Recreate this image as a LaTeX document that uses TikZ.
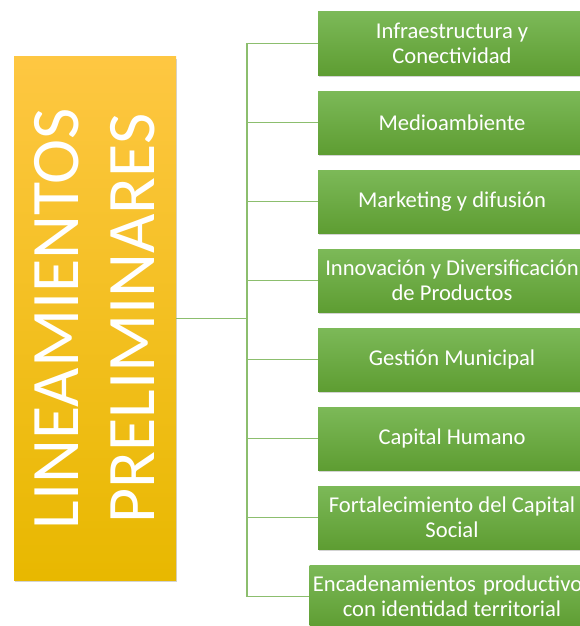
\documentclass[tikz,border=0pt]{standalone}
\usepackage{fontspec}
\setmainfont{Carlito}
\usepackage{tikz}
\usetikzlibrary{positioning,shadows,calc}
\definecolor{orangetop}{RGB}{254,199,66}
\definecolor{orangebot}{RGB}{232,184,0}
\definecolor{greentop}{RGB}{124,185,88}
\definecolor{greenbot}{RGB}{94,157,50}
\definecolor{branchgreen}{RGB}{140,190,110}

\tikzset{
  titlebox/.style={rectangle, minimum width=162pt, minimum height=523pt,
    top color=orangetop, bottom color=orangebot,
    drop shadow={opacity=0.35, shadow xshift=1pt, shadow yshift=-2pt}},
  itembox/.style={rectangle, minimum width=268pt, minimum height=63pt,
    top color=greentop, bottom color=greenbot, text=white, align=center,
    font=\fontsize{22.6}{25}\selectfont,
    drop shadow={opacity=0.35, shadow xshift=1pt, shadow yshift=-2pt}},
  branch/.style={branchgreen, line width=1.4pt}
}

\begin{document}
\begin{tikzpicture}[x=1pt, y=-1pt]

\useasboundingbox (0,0) rectangle (579,626);

% title column
\node[titlebox] (lin) at (95, 318.5) {};
\node[rotate=90, text=white, align=center, font=\fontsize{68}{76}\selectfont]
  (lintext) at (lin.center) {LINEAMIENTOS\\PRELIMINARES};

% items
\node[itembox] (b1) at (452, 43.5) {Infraestructura y\\Conectividad};
\node[itembox] (b2) at (452, 122.5) {Medioambiente};
\node[itembox] (b3) at (452, 201.5) {Marketing y difusión};
\node[itembox] (b4) at (452, 280.5) {Innovación y Diversificación\\de Productos};
\node[itembox] (b5) at (452, 359.5) {Gestión Municipal};
\node[itembox] (b6) at (452, 438.5) {Capital Humano};
\node[itembox] (b7) at (452, 517.5) {Fortalecimiento del Capital\\Social};
\node[itembox] (b8) at (452, 596.5) {Encadenamientos\hspace{2pt} productivos\\con identidad territorial};

% connectors
\coordinate (bus) at (247, 318.5);
\draw[branch] (lin.east) -- (bus);
\draw[branch] (bus |- b1.west) -- (bus |- b8.west);
\draw[branch] (bus |- b1.west) -- (b1.west);
\draw[branch] (bus |- b2.west) -- (b2.west);
\draw[branch] (bus |- b3.west) -- (b3.west);
\draw[branch] (bus |- b4.west) -- (b4.west);
\draw[branch] (bus |- b5.west) -- (b5.west);
\draw[branch] (bus |- b6.west) -- (b6.west);
\draw[branch] (bus |- b7.west) -- (b7.west);
\draw[branch] (bus |- b8.west) -- (b8.west);

\end{tikzpicture}
\end{document}
